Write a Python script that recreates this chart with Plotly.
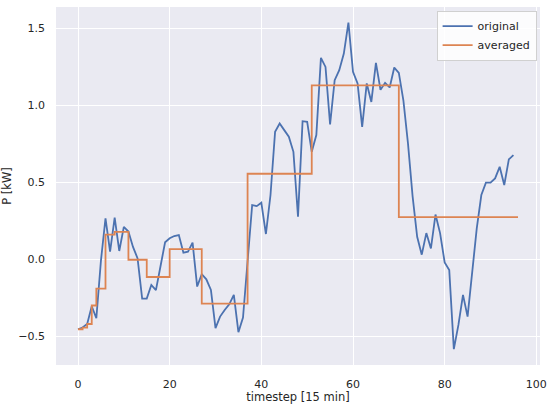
import plotly.graph_objects as go

# original series (timestep 0..95)
timesteps = list(range(96))
original = [
    -0.454, -0.443, -0.420, -0.305, -0.383, -0.010, 0.266, 0.050, 0.270, 0.054,
    0.210, 0.180, 0.080, 0.006, -0.255, -0.255, -0.167, -0.200, -0.045, 0.110,
    0.136, 0.151, 0.157, 0.043, 0.049, 0.108, -0.177, -0.097, -0.130, -0.199,
    -0.447, -0.372, -0.329, -0.292, -0.231, -0.473, -0.378, 0.000, 0.352, 0.345,
    0.367, 0.164, 0.417, 0.827, 0.881, 0.838, 0.795, 0.697, 0.276, 0.896,
    0.892, 0.697, 0.806, 1.307, 1.248, 0.875, 1.162, 1.227, 1.335, 1.536,
    1.216, 1.141, 0.859, 1.141, 1.021, 1.274, 1.100, 1.145, 1.115, 1.244,
    1.210, 1.030, 0.750, 0.410, 0.146, 0.030, 0.170, 0.070, 0.290, 0.170,
    -0.020, -0.070, -0.583, -0.426, -0.231, -0.372, -0.069, 0.200, 0.417, 0.497,
    0.497, 0.525, 0.600, 0.482, 0.648, 0.676,
]

# averaged series: step edges and the value held on each interval
avg_edges = [0, 1, 2, 3, 4, 6, 8, 11, 15, 20, 27, 37, 51, 70, 96]
avg_values = [-0.454, -0.443, -0.420, -0.300, -0.190, 0.160, 0.178, -0.003,
              -0.115, 0.066, -0.288, 0.555, 1.128, 0.274]

x_ticks = [0, 20, 40, 60, 80, 100]
y_ticks = [-0.5, 0.0, 0.5, 1.0, 1.5]

BLUE = "#4C72B0"
ORANGE = "#DD8452"
TXT = "#262626"
FONT = "DejaVu Sans"

fig = go.Figure()
fig.add_trace(go.Scatter(
    x=timesteps, y=original, mode="lines", name="original",
    line=dict(color=BLUE, width=1.8),
))
fig.add_trace(go.Scatter(
    x=avg_edges, y=avg_values + [avg_values[-1]], mode="lines", name="averaged",
    line=dict(color=ORANGE, width=1.8, shape="hv"),
))

fig.update_layout(
    width=549, height=404,
    margin=dict(l=56, r=9, t=7, b=39),
    paper_bgcolor="white",
    plot_bgcolor="#EAEAF2",
    font=dict(family=FONT, size=11, color=TXT),
    showlegend=True,
    legend=dict(
        x=0.993, y=0.99, xanchor="right", yanchor="top",
        bgcolor="rgba(255,255,255,0.85)", bordercolor="#D0D0D0", borderwidth=1,
        font=dict(family=FONT, size=11, color=TXT),
        tracegroupgap=2,
    ),
    xaxis=dict(
        range=[-4.8, 100.8], tickvals=x_ticks, showgrid=True, gridcolor="white",
        gridwidth=1.2, zeroline=False, showline=False, ticks="",
        ticklabelstandoff=11, automargin=False,
        title=dict(text="timestep [15 min]", font=dict(family=FONT, size=11.5, color=TXT), standoff=8),
    ),
    yaxis=dict(
        range=[-0.686, 1.637], tickvals=y_ticks, tickformat=".1f", showgrid=True,
        gridcolor="white", gridwidth=1.2, zeroline=False, showline=False, ticks="",
        ticklabelstandoff=10, automargin=False,
        title=dict(text="P [kW]", font=dict(family=FONT, size=11.5, color=TXT), standoff=6),
    ),
)

fig.write_html("out.html")
